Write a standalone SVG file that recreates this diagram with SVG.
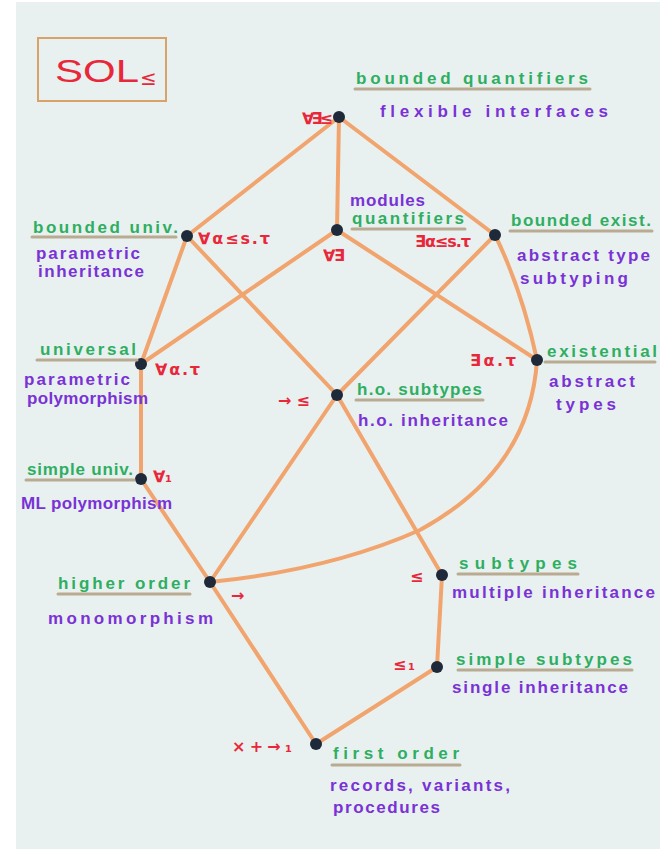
<svg xmlns="http://www.w3.org/2000/svg" width="660" height="849" viewBox="0 0 660 849">
<style>
.g{font-family:"Liberation Sans",Arial,sans-serif;font-size:17px;font-weight:bold;fill:#2fae62}
.p{font-family:"Liberation Sans",Arial,sans-serif;font-size:17px;font-weight:bold;fill:#7a32d6}
.r{font-family:"DejaVu Sans",sans-serif;font-size:16px;font-weight:bold;fill:#e8283a}
.u{stroke:#b9aa92;stroke-width:3;stroke-linecap:round}
.e{stroke:#f2a46e;stroke-width:4;fill:none;stroke-linecap:round}
.n{fill:#1e2a3a}
</style>
<rect width="660" height="849" fill="#ffffff"/>
<rect x="16" y="2" width="644" height="847" fill="#e8f1ef"/>
<g id="title">
<rect x="38" y="38" width="128" height="63" fill="none" stroke="#d8a268" stroke-width="2"/>
<text x="55" y="82" textLength="84" lengthAdjust="spacingAndGlyphs" style="font-family:'Liberation Sans',sans-serif;font-size:32px;fill:#e8283a">SOL</text>
<text x="140" y="85" style="font-family:'DejaVu Sans',sans-serif;font-size:20px;fill:#e8283a">≤</text>
</g>
<g id="connectors">
<line class="e" x1="339" y1="117" x2="187" y2="236"/>
<line class="e" x1="339" y1="117" x2="337" y2="230"/>
<line class="e" x1="339" y1="117" x2="495" y2="235"/>
<line class="e" x1="187" y1="236" x2="141" y2="364"/>
<line class="e" x1="187" y1="236" x2="337" y2="395"/>
<line class="e" x1="337" y1="230" x2="141" y2="364"/>
<line class="e" x1="337" y1="230" x2="537" y2="360"/>
<path class="e" d="M495 235 Q522 290 537 360"/>
<line class="e" x1="495" y1="235" x2="337" y2="395"/>
<line class="e" x1="141" y1="364" x2="141" y2="479"/>
<line class="e" x1="337" y1="395" x2="210" y2="582"/>
<line class="e" x1="337" y1="395" x2="442" y2="575"/>
<path class="e" d="M537 360 Q530 470 420 530 Q330 570 210 582"/>
<line class="e" x1="141" y1="479" x2="210" y2="582"/>
<line class="e" x1="210" y1="582" x2="316" y2="744"/>
<line class="e" x1="442" y1="575" x2="437" y2="667"/>
<line class="e" x1="437" y1="667" x2="316" y2="744"/>
</g>
<g id="n-top"><circle class="n" cx="339" cy="117" r="6"/>
<text class="r" x="302" y="124" textLength="31">∀∃≤</text>
<line class="u" x1="355" y1="89" x2="590" y2="89"/>
<text class="g" x="356" y="84" textLength="232">bounded quantifiers</text>
<text class="p" x="380" y="117" textLength="228">flexible interfaces</text></g>
<g id="n-bounded-univ"><circle class="n" cx="187" cy="236" r="6"/>
<line class="u" x1="32" y1="237" x2="176" y2="237"/>
<text class="g" x="33" y="233" textLength="145">bounded univ.</text>
<text class="p" x="36" y="259" textLength="104">parametric</text>
<text class="p" x="38" y="277" textLength="106">inheritance</text>
<text class="r" x="198" y="244" textLength="72">∀α≤s.τ</text></g>
<g id="n-modules"><circle class="n" cx="337" cy="230" r="6"/>
<text class="p" x="350" y="206" textLength="75">modules</text>
<line class="u" x1="352" y1="229" x2="465" y2="229"/>
<text class="g" x="352" y="224" textLength="112">quantifiers</text>
<text class="r" x="323" y="261" textLength="22">∀∃</text>
<text class="r" x="415" y="247" textLength="56">∃α≤s.τ</text></g>
<g id="n-bounded-exist"><circle class="n" cx="495" cy="235" r="6"/>
<line class="u" x1="510" y1="231" x2="652" y2="231"/>
<text class="g" x="511" y="226" textLength="140">bounded exist.</text>
<text class="p" x="517" y="261" textLength="133">abstract type</text>
<text class="p" x="520" y="284" textLength="108">subtyping</text></g>
<g id="n-universal"><circle class="n" cx="141" cy="364" r="6"/>
<line class="u" x1="37" y1="360" x2="137" y2="360"/>
<text class="g" x="40" y="355" textLength="96">universal</text>
<text class="p" x="24" y="385" textLength="106">parametric</text>
<text class="p" x="27" y="404" textLength="121">polymorphism</text>
<text class="r" x="155" y="375" textLength="45">∀α.τ</text></g>
<g id="n-existential"><circle class="n" cx="537" cy="360" r="6"/>
<line class="u" x1="545" y1="362" x2="655" y2="362"/>
<text class="g" x="547" y="357" textLength="110">existential</text>
<text class="p" x="549" y="387" textLength="86">abstract</text>
<text class="p" x="556" y="410" textLength="60">types</text>
<text class="r" x="470" y="366" textLength="46">∃α.τ</text></g>
<g id="n-ho-subtypes"><circle class="n" cx="337" cy="395" r="6"/>
<line class="u" x1="356" y1="400" x2="483" y2="400"/>
<text class="g" x="357" y="395" textLength="125">h.o. subtypes</text>
<text class="p" x="358" y="426" textLength="150">h.o. inheritance</text>
<text class="r" x="278" y="406" textLength="32">→≤</text></g>
<g id="n-simple-univ"><circle class="n" cx="141" cy="479" r="6"/>
<line class="u" x1="26" y1="480" x2="134" y2="480"/>
<text class="g" x="27" y="475" textLength="106">simple univ.</text>
<text class="p" x="21" y="509" textLength="151">ML polymorphism</text>
<text class="r" x="153" y="482" textLength="19">∀₁</text></g>
<g id="n-higher-order"><circle class="n" cx="210" cy="582" r="6"/>
<line class="u" x1="58" y1="594" x2="190" y2="594"/>
<text class="g" x="58" y="589" textLength="132">higher order</text>
<text class="p" x="48" y="624" textLength="165">monomorphism</text>
<text class="r" x="231" y="601" textLength="27">→</text></g>
<g id="n-subtypes"><circle class="n" cx="442" cy="575" r="6"/>
<line class="u" x1="458" y1="574" x2="578" y2="574"/>
<text class="g" x="459" y="569" textLength="118">subtypes</text>
<text class="p" x="452" y="598" textLength="203">multiple inheritance</text>
<text class="r" x="410" y="582">≤</text></g>
<g id="n-simple-subtypes"><circle class="n" cx="437" cy="667" r="6"/>
<line class="u" x1="458" y1="670" x2="632" y2="670"/>
<text class="g" x="456" y="665" textLength="176">simple subtypes</text>
<text class="p" x="452" y="693" textLength="176">single inheritance</text>
<text class="r" x="393" y="670" textLength="22">≤₁</text></g>
<g id="n-first-order"><circle class="n" cx="316" cy="744" r="6"/>
<line class="u" x1="332" y1="765" x2="460" y2="765"/>
<text class="g" x="333" y="759" textLength="126">first order</text>
<text class="p" x="330" y="791" textLength="180">records, variants,</text>
<text class="p" x="333" y="813" textLength="107">procedures</text>
<text class="r" x="232" y="752" textLength="60">×+→₁</text></g>
</svg>
